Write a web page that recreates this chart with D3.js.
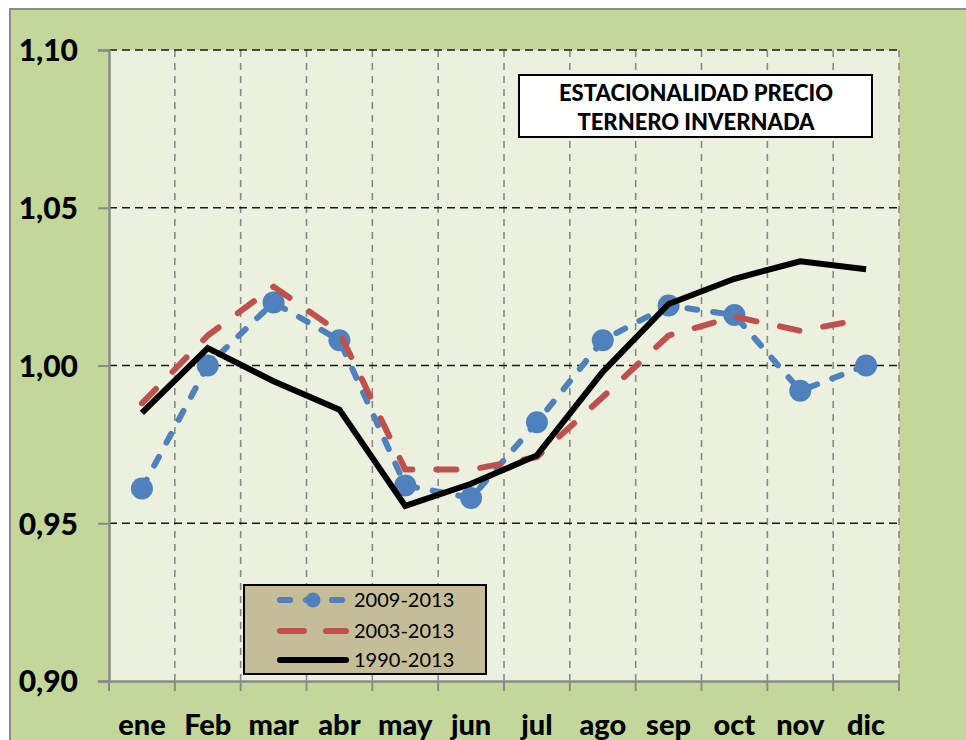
<!DOCTYPE html>
<html>
<head>
<meta charset="utf-8">
<script src="https://cdn.jsdelivr.net/npm/d3@7"></script>
<style>
  html, body { margin: 0; padding: 0; background: #ffffff; }
  svg { display: block; }
</style>
</head>
<body>
<svg id="chart" width="966" height="740"></svg>
<script>
// Months on the category axis
const months = ["ene", "Feb", "mar", "abr", "may", "jun", "jul", "ago", "sep", "oct", "nov", "dic"];

// Seasonal price index per period
const serie2009 = [0.961, 1.000, 1.020, 1.008, 0.962, 0.958, 0.982, 1.008, 1.019, 1.016, 0.992, 1.000];
const serie2003 = [0.988, 1.0095, 1.025, 1.0105, 0.967, 0.967, 0.971, 0.990, 1.0095, 1.0155, 1.011, 1.0148];
const serie1990 = [0.985, 1.0055, 0.995, 0.986, 0.9555, 0.9625, 0.9715, 0.998, 1.0195, 1.0275, 1.033, 1.0305];

const seriesNames = ["2009-2013", "2003-2013", "1990-2013"];
const yTicks = [0.90, 0.95, 1.00, 1.05, 1.10];
const titleLines = ["ESTACIONALIDAD PRECIO", "TERNERO INVERNADA"];

const W = 966, H = 740;
const plot = { left: 109, right: 899, top: 50, bottom: 681 };
const FONT = "Lato, 'Open Sans', sans-serif";

const svg = d3.select("#chart");

// Chart area background and frame
svg.append("rect").attr("x", 10).attr("y", 9).attr("width", W).attr("height", H)
  .attr("fill", "#c4d79b").attr("stroke", "#8c8c8c").attr("stroke-width", 2);

// Plot area background
svg.append("rect").attr("x", plot.left).attr("y", plot.top)
  .attr("width", plot.right - plot.left).attr("height", plot.bottom - plot.top)
  .attr("fill", "#ebf1de");

const x = d3.scaleBand().domain(months).range([plot.left, plot.right]).padding(0);
const y = d3.scaleLinear().domain([0.90, 1.10]).range([plot.bottom, plot.top]);
const cx = m => x(m) + x.bandwidth() / 2;

// Vertical grid at category boundaries
const boundaries = months.slice(1).map(m => x(m)).concat([plot.right]);
svg.append("g").selectAll("line").data(boundaries).join("line")
  .attr("x1", d => d).attr("x2", d => d)
  .attr("y1", plot.top).attr("y2", plot.bottom)
  .attr("stroke", "#8a8a8a").attr("stroke-width", 1.6)
  .attr("stroke-dasharray", "7,6");

// Horizontal grid
svg.append("g").selectAll("line").data(yTicks.filter(v => v > 0.90)).join("line")
  .attr("x1", plot.left).attr("x2", plot.right)
  .attr("y1", d => y(d)).attr("y2", d => y(d))
  .attr("stroke", "#1a1a1a").attr("stroke-width", 1.6)
  .attr("stroke-dasharray", "8,5");

// Y axis
const yAxis = d3.axisLeft(y).tickValues(yTicks).tickSize(11).tickPadding(20)
  .tickFormat(d => d3.format(".2f")(d).replace(".", ","));
const gy = svg.append("g").attr("transform", `translate(${plot.left},0)`).call(yAxis);
gy.select(".domain").attr("stroke", "#8a8a8a").attr("stroke-width", 2.5);
gy.selectAll(".tick line").attr("stroke", "#8a8a8a").attr("stroke-width", 2);
gy.selectAll(".tick text").attr("font-family", FONT).attr("font-weight", 900)
  .attr("font-size", 30).attr("fill", "#000").attr("dy", "0.36em");

// X axis with ticks at category boundaries
const xAxis = d3.axisBottom(x).tickSize(0).tickPadding(33);
const gx = svg.append("g").attr("transform", `translate(0,${plot.bottom})`).call(xAxis);
gx.select(".domain").attr("stroke", "#8a8a8a").attr("stroke-width", 2.5);
gx.selectAll(".tick text").attr("font-family", FONT).attr("font-weight", 900)
  .attr("font-size", 29).attr("fill", "#000");
gx.append("g").selectAll("line").data([plot.left].concat(boundaries)).join("line")
  .attr("x1", d => d).attr("x2", d => d).attr("y1", 0).attr("y2", 10)
  .attr("stroke", "#8a8a8a").attr("stroke-width", 2);

// Series lines
const line = d3.line().x((d, i) => cx(months[i])).y(d => y(d));

svg.append("path").datum(serie2009).attr("d", line)
  .attr("fill", "none").attr("stroke", "#4f81bd").attr("stroke-width", 6)
  .attr("stroke-linecap", "round").attr("stroke-linejoin", "round")
  .attr("stroke-dasharray", "10,16");
svg.append("g").selectAll("circle").data(serie2009).join("circle")
  .attr("cx", (d, i) => cx(months[i])).attr("cy", d => y(d)).attr("r", 11)
  .attr("fill", "#4f81bd");

svg.append("path").datum(serie2003).attr("d", line)
  .attr("fill", "none").attr("stroke", "#c0504d").attr("stroke-width", 6)
  .attr("stroke-linecap", "round").attr("stroke-linejoin", "round")
  .attr("stroke-dasharray", "20,24");

svg.append("path").datum(serie1990).attr("d", line)
  .attr("fill", "none").attr("stroke", "#000").attr("stroke-width", 6)
  .attr("stroke-linejoin", "miter");

// Title box
const tb = svg.append("g");
tb.append("rect").attr("x", 519).attr("y", 75).attr("width", 353).attr("height", 62)
  .attr("fill", "#fff").attr("stroke", "#000").attr("stroke-width", 2);
tb.selectAll("text").data(titleLines).join("text")
  .attr("x", 696).attr("y", (d, i) => 101 + i * 29)
  .attr("text-anchor", "middle").attr("font-family", FONT).attr("font-weight", 900)
  .attr("font-size", 22).attr("fill", "#000").text(d => d);

// Legend
const lg = svg.append("g");
lg.append("rect").attr("x", 244).attr("y", 585).attr("width", 242).attr("height", 89)
  .attr("fill", "#c4bd97").attr("stroke", "#000").attr("stroke-width", 2);
const rows = [600, 631, 660];
const styles = [
  { color: "#4f81bd", dash: "10,16", cap: "round", marker: true },
  { color: "#c0504d", dash: "24,22", cap: "round", marker: false },
  { color: "#000", dash: null, cap: "round", marker: false }
];
seriesNames.forEach((name, i) => {
  const s = styles[i];
  const l = lg.append("line").attr("x1", 280).attr("x2", 346)
    .attr("y1", rows[i]).attr("y2", rows[i])
    .attr("stroke", s.color).attr("stroke-width", 6).attr("stroke-linecap", s.cap);
  if (s.dash) l.attr("stroke-dasharray", s.dash);
  if (s.marker) lg.append("circle").attr("cx", 313).attr("cy", rows[i]).attr("r", 7.5).attr("fill", s.color);
  lg.append("text").attr("x", 354).attr("y", rows[i]).attr("dy", "0.36em")
    .attr("font-family", FONT).attr("font-size", 20).attr("fill", "#000").text(name);
});
</script>
</body>
</html>
